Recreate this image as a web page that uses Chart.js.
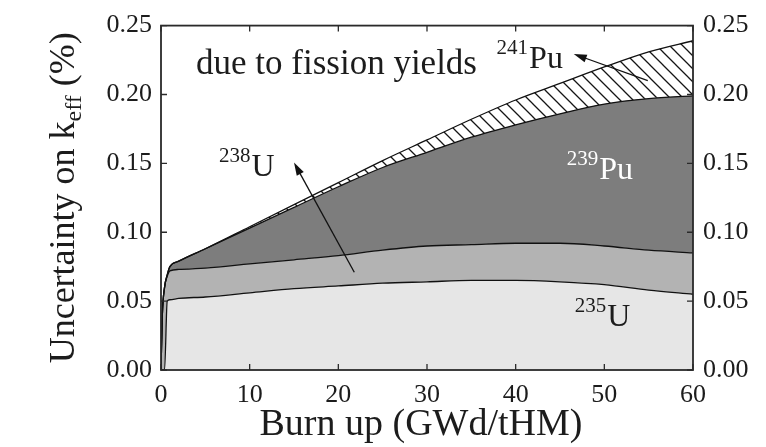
<!DOCTYPE html>
<html>
<head>
<meta charset="utf-8">
<title>Uncertainty on keff due to fission yields</title>
<script src="https://cdn.jsdelivr.net/npm/chart.js@4.4.1/dist/chart.umd.min.js"></script>
<style>
  html, body { margin: 0; padding: 0; background: #fff; }
  #wrap { width: 766px; height: 447px; position: relative; }
</style>
</head>
<body>
<div id="wrap"><canvas id="keffChart"></canvas></div>
<script>
// burn-up grid (GWd/tHM)
const burnup = [0, 0.15, 0.4, 0.7, 1, 2, 5, 10, 15, 20, 25, 30, 35, 40, 45, 50, 55, 60];

// upper edge of each stacked band (%)
const u235Top  = [0, 0, 0, 0.050, 0.051, 0.052, 0.053, 0.056, 0.059, 0.061, 0.063, 0.064, 0.065, 0.065, 0.064, 0.062, 0.058, 0.055];
const u238Top  = [0, 0.040, 0.060, 0.068, 0.072, 0.073, 0.074, 0.077, 0.080, 0.083, 0.087, 0.090, 0.091, 0.092, 0.092, 0.090, 0.087, 0.085];
const pu239Top = [0, 0.040, 0.060, 0.069, 0.075, 0.079, 0.088, 0.103, 0.118, 0.133, 0.147, 0.158, 0.169, 0.178, 0.186, 0.193, 0.197, 0.199];
const pu241Top = [0, 0.040, 0.060, 0.069, 0.075, 0.079, 0.088, 0.104, 0.120, 0.136, 0.152, 0.167, 0.182, 0.196, 0.208, 0.220, 0.231, 0.239];

const xTicks = [0, 10, 20, 30, 40, 50, 60];
const yTicks = [0, 0.05, 0.10, 0.15, 0.20, 0.25];

const SERIF = '"Liberation Serif", "DejaVu Serif", serif';
const INK = '#1c1c1c';

function points(ys) {
  return burnup.map((x, i) => ({ x: x, y: ys[i] }));
}

// white background with "\" hatching for the 241Pu band
function hatchPattern() {
  const size = 13;
  const c = document.createElement('canvas');
  c.width = size; c.height = size;
  const g = c.getContext('2d');
  g.fillStyle = '#ffffff';
  g.fillRect(0, 0, size, size);
  g.strokeStyle = '#151515';
  g.lineWidth = 1.3;
  g.beginPath();
  g.moveTo(-2, -2); g.lineTo(size + 2, size + 2);
  g.moveTo(-2, size - 2); g.lineTo(2, size + 2);
  g.moveTo(size - 2, -2); g.lineTo(size + 2, 2);
  g.stroke();
  return g.createPattern(c, 'repeat');
}

function band(label, ys, fill, bg) {
  return {
    label: label,
    data: points(ys),
    fill: fill,
    backgroundColor: bg,
    borderColor: '#111',
    borderWidth: 1.3,
    pointRadius: 0,
    cubicInterpolationMode: 'monotone'
  };
}

function drawIsotope(ctx, x, y, mass, sym, color) {
  ctx.fillStyle = color;
  ctx.textAlign = 'left';
  ctx.textBaseline = 'alphabetic';
  ctx.font = '21px ' + SERIF;
  ctx.fillText(mass, x, y - 14);
  const w = ctx.measureText(mass).width;
  ctx.font = '32px ' + SERIF;
  ctx.fillText(sym, x + w + 1, y);
}

function drawArrow(ctx, x1, y1, x2, y2) {
  const a = Math.atan2(y2 - y1, x2 - x1);
  const len = 13, half = 4;
  ctx.strokeStyle = '#111';
  ctx.fillStyle = '#111';
  ctx.lineWidth = 1.3;
  ctx.beginPath();
  ctx.moveTo(x1, y1);
  ctx.lineTo(x2 - len * 0.8 * Math.cos(a), y2 - len * 0.8 * Math.sin(a));
  ctx.stroke();
  ctx.beginPath();
  ctx.moveTo(x2, y2);
  ctx.lineTo(x2 - len * Math.cos(a) + half * Math.sin(a), y2 - len * Math.sin(a) - half * Math.cos(a));
  ctx.lineTo(x2 - len * Math.cos(a) - half * Math.sin(a), y2 - len * Math.sin(a) + half * Math.cos(a));
  ctx.closePath();
  ctx.fill();
}

// frame, inward ticks, labels and axis titles
const decorations = {
  id: 'decorations',
  afterDatasetsDraw(chart) {
    const ctx = chart.ctx;
    const area = chart.chartArea;
    const sx = chart.scales.x, sy = chart.scales.y;
    const px = v => sx.getPixelForValue(v);
    const py = v => sy.getPixelForValue(v);

    ctx.save();
    ctx.strokeStyle = '#2a2a2a';
    ctx.lineWidth = 1.8;
    ctx.strokeRect(area.left, area.top, area.right - area.left, area.bottom - area.top);

    ctx.lineWidth = 1.3;
    ctx.beginPath();
    xTicks.forEach(v => {
      ctx.moveTo(px(v), area.top); ctx.lineTo(px(v), area.top + 6);
      ctx.moveTo(px(v), area.bottom); ctx.lineTo(px(v), area.bottom - 6);
    });
    yTicks.forEach(v => {
      ctx.moveTo(area.left, py(v)); ctx.lineTo(area.left + 6, py(v));
      ctx.moveTo(area.right, py(v)); ctx.lineTo(area.right - 6, py(v));
    });
    ctx.stroke();

    // annotation text
    ctx.fillStyle = INK;
    ctx.textAlign = 'left';
    ctx.textBaseline = 'alphabetic';
    ctx.font = '35px ' + SERIF;
    ctx.fillText('due to fission yields', px(3.95), py(0.2152));

    drawIsotope(ctx, px(6.55), py(0.1406), '238', 'U', INK);
    drawIsotope(ctx, px(37.85), py(0.2195), '241', 'Pu', INK);
    drawIsotope(ctx, px(45.76), py(0.139), '239', 'Pu', '#ffffff');
    drawIsotope(ctx, px(46.67), py(0.032), '235', 'U', INK);

    drawArrow(ctx, px(21.8), py(0.071), px(15.0), py(0.1506));
    drawArrow(ctx, px(54.9), py(0.210), px(46.55), py(0.2294));

    // x axis title
    ctx.fillStyle = INK;
    ctx.textAlign = 'center';
    ctx.font = '38px ' + SERIF;
    ctx.fillText('Burn up (GWd/tHM)', 421, 435);

    // y axis title with subscript
    const big = '36px ' + SERIF, small = '24px ' + SERIF;
    const parts = [
      { t: 'Uncertainty on k', f: big, dy: 0 },
      { t: 'eff', f: small, dy: 7 },
      { t: ' (%)', f: big, dy: 0 }
    ];
    let total = 0;
    parts.forEach(p => { ctx.font = p.f; p.w = ctx.measureText(p.t).width; total += p.w; });
    ctx.translate(74, (area.top + area.bottom) / 2);
    ctx.rotate(-Math.PI / 2);
    ctx.textAlign = 'left';
    let cx = -total / 2;
    parts.forEach(p => {
      ctx.font = p.f;
      ctx.fillText(p.t, cx, p.dy);
      cx += p.w;
    });
    ctx.restore();
  }
};

const tickFont = { family: SERIF, size: 26 };

const yAxis = (position, width, padding) => ({
  type: 'linear',
  position: position,
  min: 0,
  max: 0.25,
  afterBuildTicks: s => { s.ticks = yTicks.map(v => ({ value: v })); },
  afterFit: s => { s.width = width; },
  ticks: {
    font: tickFont,
    color: INK,
    padding: padding,
    callback: v => v.toFixed(2)
  },
  grid: { display: false, drawTicks: false },
  border: { display: false }
});

new Chart(document.getElementById('keffChart'), {
  type: 'line',
  data: {
    datasets: [
      band('235U', u235Top, 'origin', '#e6e6e6'),
      band('238U', u238Top, '-1', '#b3b3b3'),
      band('239Pu', pu239Top, '-1', '#7d7d7d'),
      band('241Pu', pu241Top, '-1', hatchPattern())
    ]
  },
  options: {
    responsive: true,
    maintainAspectRatio: false,
    animation: false,
    layout: { padding: { top: 18, left: 0, right: 0, bottom: 0 } },
    plugins: {
      legend: { display: false },
      tooltip: { enabled: false },
      filler: { drawTime: 'beforeDatasetsDraw' }
    },
    scales: {
      x: {
        type: 'linear',
        position: 'bottom',
        min: 0,
        max: 60,
        afterBuildTicks: s => { s.ticks = xTicks.map(v => ({ value: v })); },
        afterFit: s => { s.height = 77; },
        ticks: { font: tickFont, color: INK, padding: 10, maxRotation: 0 },
        grid: { display: false, drawTicks: false },
        border: { display: false }
      },
      y: yAxis('left', 161, 9),
      y2: yAxis('right', 73, 10)
    }
  },
  plugins: [decorations]
});
</script>
</body>
</html>
